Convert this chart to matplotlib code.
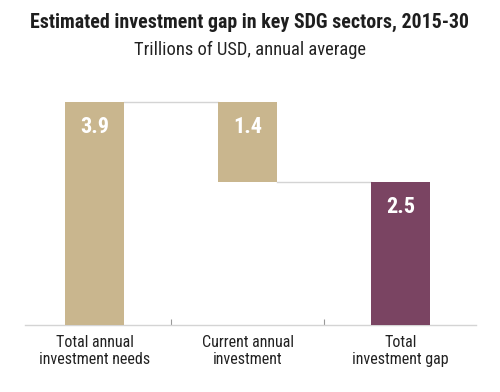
import matplotlib
matplotlib.use("Agg")
import matplotlib.pyplot as plt

# data (trillions of USD, annual average)
categories = ["Total annual\ninvestment needs", "Current annual\ninvestment", "Total\ninvestment gap"]
values = [3.9, 1.4, 2.5]
bottoms = [0.0, 2.5, 0.0]
labels = ["3.9", "1.4", "2.5"]

TAN = "#c9b68e"
PURPLE = "#7a4462"
GRID = "#d4d4d4"
colors = [TAN, TAN, PURPLE]

plt.rcParams['font.family'] = ['Roboto Condensed', 'Archivo Narrow', 'Liberation Sans Narrow', 'DejaVu Sans']

fig = plt.figure(figsize=(5, 3.92), dpi=100)
ax = fig.add_axes([25/500, 67/392, 451/500, 230/392])

xs = list(range(len(values)))
w = 0.385
ax.bar(xs, values, bottom=bottoms, width=w, color=colors, zorder=3)

# connector lines between bars
tops = [b + v for b, v in zip(bottoms, values)]
ax.plot([xs[0] + w/2, xs[1] - w/2], [tops[0], tops[0]], color=GRID, lw=1, zorder=2)
ax.plot([xs[1] + w/2, xs[2] - w/2], [bottoms[1], bottoms[1]], color=GRID, lw=1, zorder=2)

for x, t, lab in zip(xs, tops, labels):
    ax.text(x, t - 0.44, lab, ha="center", va="center", color="white",
            fontsize=16, fontweight="bold", zorder=4)

ax.set_xlim(-0.454, 2.493)
ax.set_ylim(0, 4.02)
for s in ["top", "right", "left"]:
    ax.spines[s].set_visible(False)
ax.spines["bottom"].set_color(GRID)
ax.spines["bottom"].set_linewidth(1)
ax.set_yticks([])
ax.set_xticks([0.5, 1.5])
ax.set_xticklabels([])
ax.tick_params(axis="x", direction="in", length=4, color="#999999", width=0.8)

for x, c in zip(xs, categories):
    ax.text(x, -0.17, c, ha="center", va="top", fontsize=11.5,
            color="#222222", linespacing=1.2)

fig.text(0.5, 1 - 22/392, "Estimated investment gap in key SDG sectors, 2015-30",
         ha="center", va="center", fontsize=14.3, fontweight="bold", color="#1e1e1e")
fig.text(0.5, 1 - 50/392, "Trillions of USD, annual average",
         ha="center", va="center", fontsize=13.3, color="#222222")

fig.savefig("out.png", dpi=100)
